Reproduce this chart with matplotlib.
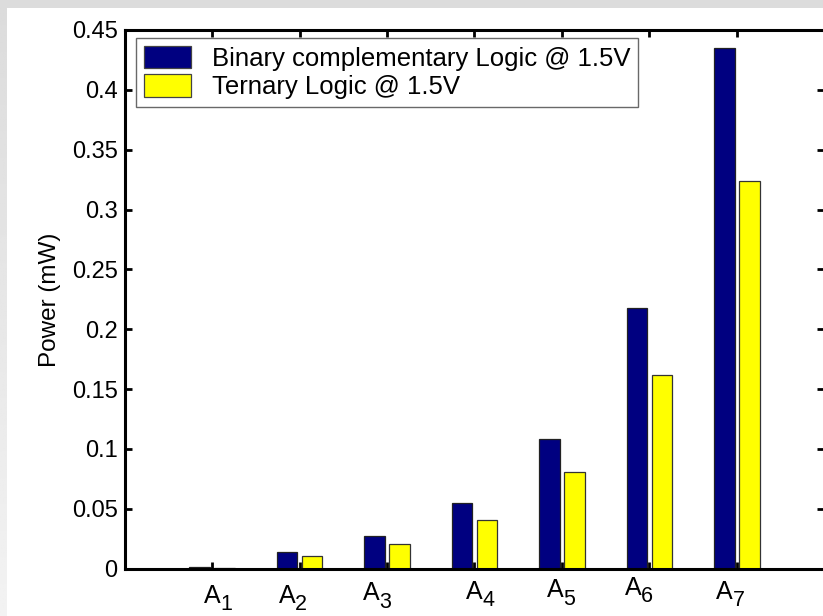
import numpy as np
import matplotlib
matplotlib.use("Agg")
import matplotlib.pyplot as plt
from matplotlib.patches import Rectangle
from matplotlib.transforms import offset_copy

plt.rcParams['font.family'] = ['Liberation Sans', 'DejaVu Sans']

# Data
categories = ["A1", "A2", "A3", "A4", "A5", "A6", "A7"]
binary_power = [0.0015, 0.0137, 0.0273, 0.0546, 0.108, 0.2175, 0.435]
ternary_power = [0.0010, 0.0104, 0.0206, 0.0407, 0.0808, 0.1616, 0.324]
series_names = ["Binary complementary Logic @ 1.5V", "Ternary Logic @ 1.5V"]
yticks = [0, 0.05, 0.1, 0.15, 0.2, 0.25, 0.3, 0.35, 0.4, 0.45]

# Hand-placed category label nudges (points): (dx, dy)
label_nudge = [(0, 0), (-9, 0), (-11, 2), (0, 3), (-5, 4), (-12, 6), (-9, 3)]

W, H = 823, 616
fig = plt.figure(figsize=(W / 100, H / 100), dpi=100, facecolor='white')

# light grey window frame along the top and left edges
grad = np.linspace(0.86, 0.95, 256).reshape(-1, 1)
edge_ax = fig.add_axes([0, 0, 7 / W, 1])
edge_ax.imshow(grad, cmap='gray', vmin=0, vmax=1, aspect='auto', extent=[0, 1, 0, 1],
               origin='upper')
edge_ax.axis('off')
fig.patches.append(Rectangle((0, 1 - 8 / H), 1, 8 / H, transform=fig.transFigure,
                             facecolor='#dcdcdc', edgecolor='none', zorder=0))

ax = fig.add_axes([124.5 / W, (H - 568.7) / H, 700 / W, 538.7 / H])
x = np.arange(1, len(categories) + 1)
bw = 0.236
off = 0.143
ax.bar(x - off, binary_power, bw, color='#000080', edgecolor='#222222', linewidth=0.9,
       label=series_names[0], zorder=2)
ax.bar(x + off, ternary_power, bw, color='#ffff00', edgecolor='#333333', linewidth=0.9,
       label=series_names[1], zorder=2)

ax.set_xlim(0, 8)
ax.set_ylim(0, 0.45)
ax.set_yticks(yticks)
ax.set_yticklabels([f"{v:g}" for v in yticks])
ax.set_xticks(x)
ax.set_xticklabels([])
ax.tick_params(axis='both', direction='in', length=5, width=2, top=True, right=True,
               labelsize=17, pad=5, color='black')
for s in ax.spines.values():
    s.set_linewidth(2.2)

ax.set_ylabel("Power (mW)", fontsize=17.5, labelpad=8)

# Category labels: letter with a lowered index
for xi, cat, (dx, dy) in zip(x, categories, label_nudge):
    base = ax.get_xaxis_transform()
    t_letter = offset_copy(base, fig=fig, x=dx, y=dy - 11, units='points')
    ax.text(xi, 0, cat[0], transform=t_letter, ha='center', va='top', fontsize=18,
            clip_on=False)
    t_index = offset_copy(base, fig=fig, x=dx + 10, y=dy - 18.5, units='points')
    ax.text(xi, 0, cat[1:], transform=t_index, ha='center', va='top', fontsize=15.5,
            clip_on=False)

leg = ax.legend(loc='upper left', bbox_to_anchor=(11.5 / 700, 1 - 8 / 538.7),
                fontsize=18.5, frameon=True, fancybox=False, borderpad=0.3,
                handlelength=1.85, handleheight=0.95, handletextpad=0.8,
                labelspacing=0.15, borderaxespad=0)
leg.get_frame().set_edgecolor('#444444')
leg.get_frame().set_linewidth(1.0)
for h in leg.legend_handles:
    h.set_edgecolor('#444444')

fig.savefig("out.png", dpi=100, facecolor='white')
